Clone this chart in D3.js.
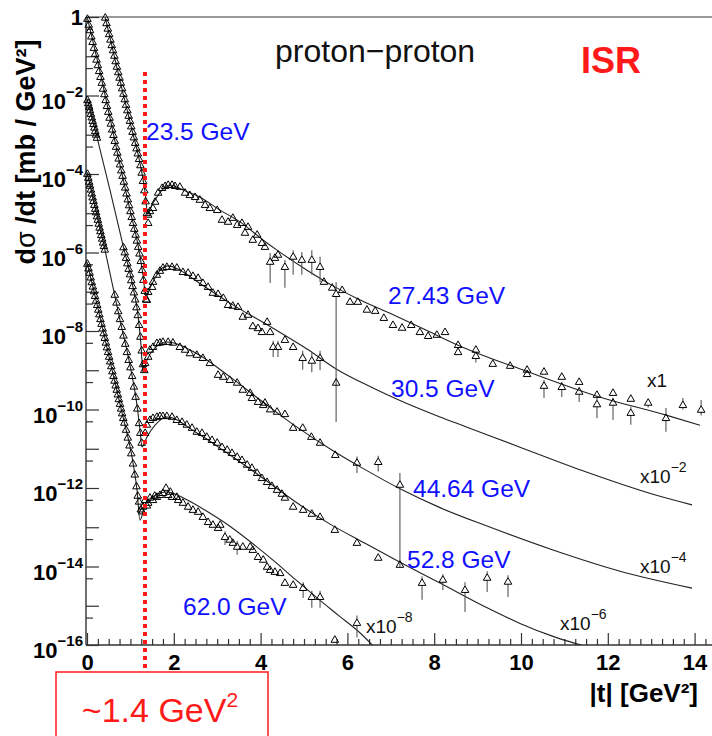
<!DOCTYPE html>
<html><head><meta charset="utf-8">
<script src="https://cdn.jsdelivr.net/npm/d3@7"></script>
<style>
body{margin:0;background:#fff}
svg{display:block}
text{font-family:"Liberation Sans",Arial,Helvetica,sans-serif}
</style>
</head><body>
<svg id="c" width="712" height="736"></svg>
<script>
// ---------------- data ----------------
const xTicks = [0, 2, 4, 6, 8, 10, 12, 14];
const yLabelExps = [0, -2, -4, -6, -8, -10, -12, -14, -16];
const energies = ["23.5 GeV", "27.43 GeV", "30.5 GeV", "44.64 GeV", "52.8 GeV", "62.0 GeV"];
const multipliers = ["1", "\u22122", "\u22124", "\u22126", "\u22128"];
const dipT = 1.336;   // ~1.4 GeV^2 marker
// values: [ |t| , log10(dσ/dt × scale) ] ; optional [ , , log10 low, log10 high ] error bar

const fit1 = [[0.369,0.18],[0.415,0],[0.622,-0.97],[0.829,-1.94],[1.037,-2.88],[1.221,-3.72],[1.313,-4.28],[1.359,-4.66],[1.39,-5.02],[1.42,-5.0],[1.47,-4.85],[1.59,-4.62],[1.728,-4.41],[1.912,-4.28],[2.212,-4.41],[2.604,-4.59],[3.065,-4.92],[3.525,-5.22],[4.055,-5.68],[4.378,-5.94],[5.069,-6.45],[5.668,-6.85],[6.221,-7.17],[6.982,-7.55],[7.834,-7.99],[8.548,-8.36],[10.138,-9.03],[11.751,-9.66],[13.364,-10.15],[14.124,-10.40]];
const fit2 = [[-0.03,0.16],[0,0.02],[0.300,-1.40],[0.530,-2.57],[0.760,-3.77],[0.991,-4.92],[1.175,-5.81],[1.290,-6.57],[1.359,-7.13],[1.429,-6.96],[1.567,-6.65],[1.728,-6.40],[1.866,-6.34],[2.143,-6.45],[2.535,-6.74],[3.295,-7.29],[4.286,-7.93],[5.069,-8.46],[5.760,-8.98],[6.590,-9.45],[7.212,-9.77],[8.134,-10.19],[8.756,-10.45],[9.977,-10.96],[11.521,-11.60],[13.041,-12.16],[13.940,-12.43]];
const fit3 = [[0,-2.08],[0.230,-3.06],[0.530,-4.41],[0.829,-5.81],[1.060,-6.88],[1.175,-7.59],[1.244,-8.36],[1.290,-9.05],[1.382,-8.74],[1.567,-8.43],[1.843,-8.28],[2.535,-8.58],[3.295,-9.17],[4.055,-9.81],[4.839,-10.45],[5.668,-11.05],[6.359,-11.50],[7.212,-12.02],[8.134,-12.50],[9.217,-12.97],[10.737,-13.58],[12.281,-14.12],[13.940,-14.55]];
const fit4 = [[0,-3.95],[0.415,-5.94],[0.760,-7.72],[0.991,-8.87],[1.152,-9.89],[1.221,-10.52],[1.267,-10.96],[1.382,-10.70],[1.567,-10.40],[1.843,-10.19],[2.535,-10.60],[3.295,-11.16],[4.055,-11.75],[4.800,-12.35],[5.600,-12.92],[6.359,-13.38],[7.212,-13.89],[8.134,-14.42],[9.217,-15.05],[9.977,-15.45],[10.737,-15.78],[11.429,-16.02],[11.820,-16.15]];
const fit5 = [[0,-6.24],[0.3,-7.65],[0.6,-9.1],[0.829,-10.19],[1.037,-11.21],[1.152,-12.05],[1.221,-12.82],[1.336,-12.43],[1.498,-12.23],[1.843,-12.10],[2.300,-12.30],[2.800,-12.62],[3.300,-12.98],[3.800,-13.40],[4.300,-13.85],[4.800,-14.33],[5.300,-14.80],[5.800,-15.25],[6.300,-15.70],[6.660,-16.10]];

const data1 = [[0.42,-0.02],[0.45,-0.16],[0.48,-0.30],[0.51,-0.44],[0.54,-0.58],[0.57,-0.72],[0.60,-0.85],[0.63,-0.99],[0.66,-1.13],[0.69,-1.27],[0.72,-1.41],[0.75,-1.55],[0.78,-1.68],[0.81,-1.82],[0.84,-1.96],[0.87,-2.10],[0.90,-2.24],[0.93,-2.38],[0.96,-2.52],[0.99,-2.65],[1.02,-2.79],[1.05,-2.93],[1.08,-3.07],[1.11,-3.21],[1.14,-3.35],[1.17,-3.48],[1.20,-3.62],[1.23,-3.78],[1.26,-3.97],[1.29,-4.18],[1.32,-4.42],[1.35,-4.70],[1.38,-5.00],[1.41,-5.25],
[1.41,-5.04],[1.45,-4.95],[1.52,-4.87],[1.57,-4.71],[1.64,-4.48],[1.73,-4.36],[1.80,-4.31],[1.87,-4.28],[1.96,-4.28],[2.03,-4.31],[2.14,-4.33],[2.26,-4.48],[2.37,-4.54],[2.49,-4.59],[2.60,-4.66],[2.72,-4.79],[2.83,-4.87],[3.00,-4.92],[3.11,-5.17],[3.25,-5.22],[3.36,-5.12],[3.46,-5.30],[3.57,-5.25],[3.64,-5.50],[3.71,-5.35],[3.82,-5.68],[3.92,-5.55],[4.03,-5.76],[4.10,-5.86],[4.22,-6.24,-6.78,-6.01],[4.33,-6.14],[4.40,-6.06],[4.56,-6.37,-6.90,-6.19],[4.75,-6.11,-6.57,-5.94],[4.95,-6.19,-6.57,-5.99],[5.18,-6.19,-6.57,-5.94],[5.37,-6.37,-6.75,-6.11],[5.46,-6.75],[5.65,-6.90],[5.74,-7.06,-10.32,-6.75],[5.88,-6.96],[6.06,-7.26],[6.24,-7.26],[6.45,-7.46],[6.64,-7.49],[6.84,-7.67],[7.05,-7.85],[7.26,-7.92],[7.47,-7.85],[7.67,-8.03],[7.86,-8.13],[8.06,-8.10],[8.25,-8.03],[8.55,-8.36],[8.55,-8.54],[8.96,-8.48],[8.96,-8.64,-8.80,-8.55],[9.35,-8.84],[9.75,-8.89],[10.14,-8.99],[10.14,-9.10],[10.53,-9.04],[10.53,-9.40,-9.71,-9.25],[10.94,-9.17],[10.94,-9.43,-9.68,-9.30],[11.34,-9.30],[11.34,-9.55,-9.81,-9.42],[11.75,-9.63],[11.75,-9.87,-10.22,-9.70],[12.12,-9.58],[12.12,-9.83,-10.27,-9.70],[12.53,-9.73],[12.53,-10.09,-10.39,-9.93],[12.93,-9.83,-9.95,-9.72],[13.34,-10.22,-10.57,-9.96],[13.73,-9.89,-10.0,-9.71],[14.15,-10.01,-10.15,-9.76]];

const data2 = [[0.01,-0.05],[0.04,-0.20],[0.07,-0.34],[0.10,-0.50],[0.13,-0.64],[0.16,-0.79],[0.19,-0.94],[0.22,-1.09],[0.25,-1.23],[0.28,-1.38],[0.31,-1.53],[0.34,-1.68],[0.37,-1.83],[0.40,-1.97],[0.43,-2.12],[0.46,-2.27],[0.49,-2.42],[0.52,-2.57],[0.55,-2.72],[0.58,-2.87],[0.61,-3.01],[0.64,-3.16],[0.67,-3.31],[0.70,-3.46],[0.73,-3.61],[0.76,-3.76],[0.79,-3.91],[0.82,-4.05],[0.85,-4.20],[0.88,-4.35],[0.91,-4.50],[0.94,-4.65],[0.97,-4.80],[1.00,-4.95],[1.03,-5.10],[1.06,-5.25],[1.09,-5.40],[1.12,-5.55],[1.15,-5.70],[1.18,-5.86],[1.21,-6.03],[1.24,-6.22],[1.27,-6.45],[1.30,-6.70],[1.33,-6.98],[1.36,-7.20],
[1.38,-7.21],[1.41,-7.01],[1.50,-6.88],[1.52,-6.75],[1.61,-6.57],[1.68,-6.47],[1.75,-6.39],[1.84,-6.37],[1.96,-6.37],[2.07,-6.39],[2.21,-6.50],[2.33,-6.52],[2.44,-6.60],[2.56,-6.65],[2.67,-6.78],[2.79,-6.88],[2.90,-7.03],[3.02,-7.06],[3.14,-7.16],[3.25,-7.34],[3.36,-7.36],[3.48,-7.39],[3.59,-7.64],[3.71,-7.59],[3.82,-7.88],[3.94,-7.93],[4.03,-8.03],[4.15,-7.77],[4.22,-8.03],[4.29,-8.41,-8.66,-8.25],[4.40,-8.41,-8.66,-8.25],[4.56,-8.23],[4.75,-8.41],[4.97,-8.69,-8.99,-8.50],[5.18,-8.76,-9.05,-8.55],[5.37,-8.69,-9.00,-8.50],[5.74,-9.32]];

const data3 = [[0.01,-2.12],[0.03,-2.20],[0.05,-2.29],[0.07,-2.38],[0.09,-2.47],[0.11,-2.56],[0.13,-2.65],[0.15,-2.73],[0.17,-2.82],[0.19,-2.91],[0.21,-3.00],[0.23,-3.08],
[0.84,-5.87],[0.87,-6.00],[0.90,-6.14],[0.93,-6.28],[0.96,-6.42],[0.99,-6.56],[1.02,-6.71],[1.05,-6.86],[1.08,-7.02],[1.11,-7.20],[1.14,-7.40],[1.17,-7.60],[1.20,-7.85],[1.23,-8.15],[1.26,-8.50],[1.29,-8.85],[1.32,-9.00],
[1.34,-8.82],[1.41,-8.66],[1.45,-8.48],[1.52,-8.41],[1.61,-8.31],[1.68,-8.30],[1.75,-8.28],[1.87,-8.28],[1.98,-8.30],[2.14,-8.41],[2.26,-8.48],[2.37,-8.57],[2.53,-8.61],[2.67,-8.69],[2.83,-8.82],[3.02,-9.12],[3.14,-9.17],[3.29,-9.25],[3.46,-9.32],[3.59,-9.50],[3.76,-9.58],[3.80,-9.71],[3.94,-9.81],[4.06,-9.89],[4.10,-9.83],[4.22,-10.00],[4.38,-10.06],[4.56,-10.12],[4.75,-10.47],[4.97,-10.47],[5.17,-10.70],[5.37,-10.85],[5.72,-11.16],[6.22,-11.36,-11.62,-11.20],[6.71,-11.34,-11.58,-11.18],[7.21,-11.92,-14.01,-11.62]];

const data4 = [[0.01,-4.00],[0.03,-4.10],[0.05,-4.20],[0.07,-4.30],[0.09,-4.40],[0.11,-4.50],[0.13,-4.60],[0.15,-4.69],[0.17,-4.79],[0.19,-4.89],[0.21,-4.98],[0.23,-5.08],[0.25,-5.17],[0.27,-5.27],[0.29,-5.37],[0.31,-5.46],[0.33,-5.56],[0.35,-5.65],[0.37,-5.75],[0.39,-5.84],[0.41,-5.93],
[0.64,-7.08],[0.68,-7.28],[0.72,-7.50],[0.76,-7.70],[0.80,-7.90],[0.84,-8.12],[0.88,-8.33],[0.92,-8.54],[0.96,-8.74],[1.00,-8.93],[1.04,-9.15],[1.08,-9.42],[1.12,-9.68],[1.16,-9.98],[1.20,-10.35],[1.23,-10.60],[1.26,-10.85],
[1.34,-10.60],[1.38,-10.39],[1.45,-10.27],[1.52,-10.22],[1.61,-10.19],[1.68,-10.17],[1.75,-10.17],[1.84,-10.17],[1.96,-10.19],[2.07,-10.27],[2.19,-10.32],[2.30,-10.39],[2.42,-10.47],[2.53,-10.57],[2.65,-10.60],[2.76,-10.70],[2.88,-10.78],[3.00,-10.85],[3.11,-10.96],[3.23,-11.03],[3.34,-11.11],[3.46,-11.21],[3.57,-11.29],[3.69,-11.41],[3.80,-11.49],[3.92,-11.62],[4.03,-11.75],[4.15,-11.85],[4.26,-11.95],[4.38,-12.05],[4.49,-12.15],[4.56,-12.25],[4.75,-12.48],[4.98,-12.56],[5.18,-12.66],[5.37,-12.74],[5.71,-13.07],[6.22,-13.40],[6.71,-13.78],[7.21,-13.96],[7.72,-14.42,-14.85,-14.25],[8.20,-14.34,-14.60,-14.20],[8.71,-14.60,-15.16,-14.40],[9.22,-14.29,-14.65,-14.12],[9.70,-14.39,-14.78,-14.22]];

const data5 = [[0.01,-6.29],[0.035,-6.41],[0.06,-6.52],[0.085,-6.64],[0.11,-6.76],[0.135,-6.87],[0.16,-6.99],[0.185,-7.11],[0.21,-7.23],[0.235,-7.34],[0.26,-7.46],[0.285,-7.58],[0.31,-7.70],[0.335,-7.82],[0.36,-7.94],[0.385,-8.06],[0.41,-8.18],[0.435,-8.30],[0.46,-8.42],[0.485,-8.54],[0.51,-8.66],[0.535,-8.78],[0.56,-8.90],[0.585,-9.03],[0.61,-9.15],[0.635,-9.27],[0.66,-9.39],[0.685,-9.50],[0.71,-9.62],[0.735,-9.74],[0.76,-9.86],[0.785,-9.98],[0.81,-10.10],[0.835,-10.22],[0.86,-10.34],
[0.90,-10.52],[0.94,-10.72],[0.98,-10.92],[1.02,-11.12],[1.06,-11.38],[1.10,-11.66],[1.14,-11.96],[1.17,-12.20],[1.20,-12.35],[1.24,-12.55],[1.27,-12.60],
[1.29,-12.48],[1.34,-12.31],[1.38,-12.45],[1.41,-12.38],[1.45,-12.25],[1.52,-12.31],[1.56,-12.20],[1.61,-12.23],[1.68,-12.18],[1.75,-12.13],[1.82,-12.00],[1.87,-12.18],[1.92,-12.10],[1.96,-12.23],[2.07,-12.23],[2.10,-12.31],[2.21,-12.38],[2.33,-12.48],[2.44,-12.56],[2.56,-12.61],[2.67,-12.74],[2.79,-12.87],[2.90,-12.94],[3.02,-13.02],[3.07,-12.94],[3.18,-13.25,-13.45,-13.10],[3.29,-13.32],[3.36,-13.40],[3.46,-13.50,-13.70,-13.35],[3.59,-13.50],[3.76,-13.50],[3.82,-13.58],[3.94,-13.76],[4.06,-13.83],[4.15,-14.01],[4.22,-14.09],[4.33,-14.14],[4.45,-14.17],[4.56,-14.42],[4.75,-14.47],[4.98,-14.55,-14.80,-14.40],[5.18,-14.78,-15.05,-14.62],[5.37,-14.78,-15.05,-14.62],[5.71,-15.87],[6.22,-15.44,-15.80,-15.25]];

const fits = [fit1, fit2, fit3, fit4, fit5];
const datasets = [data1, data2, data3, data4, data5];

// ---------------- drawing ----------------
const svg = d3.select("#c");
const W = 712, H = 736;
const x = d3.scaleLinear().domain([0, 14]).range([87, 694.6]);
const y = d3.scaleLog().domain([1, 1e-16]).range([17, 645]);
const yl = L => y(Math.pow(10, L));
const X0 = x(-0.023), X1 = W, Y0 = y(1), Y1 = y(1e-16);
const axisCol = "#333";

svg.append("rect").attr("width", W).attr("height", H).attr("fill", "#fff");

svg.append("defs").append("clipPath").attr("id", "plot")
  .append("rect").attr("x", X0).attr("y", Y0).attr("width", X1 - X0).attr("height", Y1 - Y0);

// frame
svg.append("line").attr("x1", X0).attr("x2", X1).attr("y1", Y0).attr("y2", Y0)
  .attr("stroke", "#777").attr("stroke-width", 1.5);

// y axis ticks
const decades = d3.range(0, -17, -1).map(k => Math.pow(10, k));
const fives = d3.range(-1, -17, -1).map(k => 5 * Math.pow(10, k));
const gy = svg.append("g").attr("transform", `translate(${X0},0)`);
gy.call(d3.axisLeft(y).tickValues(decades).tickSizeInner(-13).tickSizeOuter(0).tickFormat(""));
const gy2 = svg.append("g").attr("transform", `translate(${X0},0)`);
gy2.call(d3.axisLeft(y).tickValues(fives).tickSizeInner(-7).tickSizeOuter(0).tickFormat(""));
[gy, gy2].forEach(g => { g.select(".domain").remove(); g.selectAll("line").attr("stroke", axisCol).attr("stroke-width", 1.2); });

// x axis ticks
const gx = svg.append("g").attr("transform", `translate(0,${Y1})`);
gx.call(d3.axisBottom(x).tickValues(xTicks).tickSizeInner(-12).tickSizeOuter(0).tickPadding(9).tickFormat(d3.format("d")));
const minorX = d3.range(0, 14.6, 0.25).filter(v => Math.abs(v / 2 - Math.round(v / 2)) > 1e-6);
const gx2 = svg.append("g").attr("transform", `translate(0,${Y1})`);
gx2.call(d3.axisBottom(x).tickValues(minorX).tickSizeInner(-6).tickSizeOuter(0).tickFormat(""));
[gx, gx2].forEach(g => { g.select(".domain").remove(); g.selectAll("line").attr("stroke", axisCol).attr("stroke-width", 1.2); });
gx.selectAll("text").attr("font-family", "Liberation Sans, Arial, sans-serif")
  .attr("font-size", 22).attr("font-weight", "bold").attr("fill", "#000");

// axis lines
svg.append("line").attr("x1", X0).attr("x2", X0).attr("y1", Y0).attr("y2", Y1).attr("stroke", axisCol).attr("stroke-width", 1.4);
svg.append("line").attr("x1", X0).attr("x2", X1).attr("y1", Y1).attr("y2", Y1).attr("stroke", axisCol).attr("stroke-width", 1.4);

// y tick labels with superscripts
yLabelExps.forEach(k => {
  const ty = y(Math.pow(10, k));
  if (k === 0) {
    svg.append("text").attr("x", 83).attr("y", ty + 8).attr("text-anchor", "end")
      .attr("font-size", 22).attr("font-weight", "bold").text("1");
  } else {
    const t = svg.append("text").attr("x", 83).attr("y", ty + 13).attr("text-anchor", "end")
      .attr("font-size", 22).attr("font-weight", "bold");
    t.append("tspan").text("10");
    t.append("tspan").attr("dy", -12).attr("font-size", 15).text("\u2212" + (-k));
  }
});

// axis titles
svg.append("text").attr("transform", "translate(35,152) rotate(-90)").attr("text-anchor", "middle")
  .attr("font-size", 27).attr("font-weight", "bold")
  .call(t => { t.append("tspan").text("d"); t.append("tspan").attr("font-weight", "normal").text("\u03c3"); t.append("tspan").text(" /dt [mb / GeV\u00b2]"); });
svg.append("text").attr("x", 698).attr("y", 702).attr("text-anchor", "end")
  .attr("font-size", 26).attr("font-weight", "bold").text("|t| [GeV\u00b2]");

// fit curves
const line = d3.line().x(d => x(d[0])).y(d => yl(d[1])).curve(d3.curveMonotoneX);
const gc = svg.append("g").attr("clip-path", "url(#plot)");
fits.forEach(f => gc.append("path").attr("d", line(f)).attr("fill", "none").attr("stroke", "#222").attr("stroke-width", 1.1));

// error bars + markers
const triPath = "M0,-4.2L3.8,2.4L-3.8,2.4Z";
datasets.forEach(ds => {
  const g = svg.append("g");
  ds.filter(d => d.length > 2).forEach(d => {
    const cx = x(d[0]), cy = yl(d[1]);
    const ylo = Math.min(yl(d[2]), Y1), yhi = yl(d[3]);
    if (yhi < cy - 4.5) g.append("line").attr("x1", cx).attr("x2", cx).attr("y1", yhi).attr("y2", cy - 4.2).attr("stroke", "#555").attr("stroke-width", 1.1);
    if (ylo > cy + 2.5) g.append("line").attr("x1", cx).attr("x2", cx).attr("y1", cy + 2.4).attr("y2", ylo).attr("stroke", "#555").attr("stroke-width", 1.1);
  });
  g.selectAll("path.m").data(ds).join("path").attr("class", "m")
    .attr("transform", d => `translate(${x(d[0])},${yl(d[1])})`)
    .attr("d", triPath).attr("fill", "none").attr("stroke", "#000").attr("stroke-width", 1);
});

// red dotted line and box
svg.append("line").attr("x1", x(dipT)).attr("x2", x(dipT)).attr("y1", 72).attr("y2", 672)
  .attr("stroke", "#ff1a1a").attr("stroke-width", 4).attr("stroke-dasharray", "4,4");
svg.append("rect").attr("x", 56).attr("y", 672).attr("width", 212).attr("height", 90)
  .attr("fill", "#fff").attr("stroke", "#ff1a1a").attr("stroke-width", 1.5);
svg.append("text").attr("x", 160).attr("y", 722).attr("text-anchor", "middle")
  .attr("font-size", 34).attr("fill", "#ff1a1a")
  .call(t => { t.append("tspan").text("~1.4 GeV"); t.append("tspan").attr("dy", -15).attr("font-size", 21).text("2"); });

// titles
svg.append("text").attr("x", 275).attr("y", 62).attr("font-size", 32).attr("fill", "#111").text("proton\u2212proton");
svg.append("text").attr("x", 581).attr("y", 73).attr("font-size", 36).attr("font-weight", "bold").attr("fill", "#ff1a1a").text("ISR");

// energy labels
const energyPos = [[146,140],[388,304],[391,397],[413,497],[407,568],[183,615]];
energies.forEach((e, i) => {
  svg.append("text").attr("x", energyPos[i][0]).attr("y", energyPos[i][1])
    .attr("font-size", 24.5).attr("fill", "#1010ff").text(e);
});

// scale-factor labels
const multPos = [[647,387],[640,483],[640,573],[560,630],[366,633]];
multipliers.forEach((m, i) => {
  const t = svg.append("text").attr("x", multPos[i][0]).attr("y", multPos[i][1]).attr("font-size", 19).attr("fill", "#111");
  if (i === 0) t.text("x1");
  else { t.append("tspan").text("x10"); t.append("tspan").attr("dy", -11).attr("font-size", 14).text(m); }
});
</script>
</body></html>
